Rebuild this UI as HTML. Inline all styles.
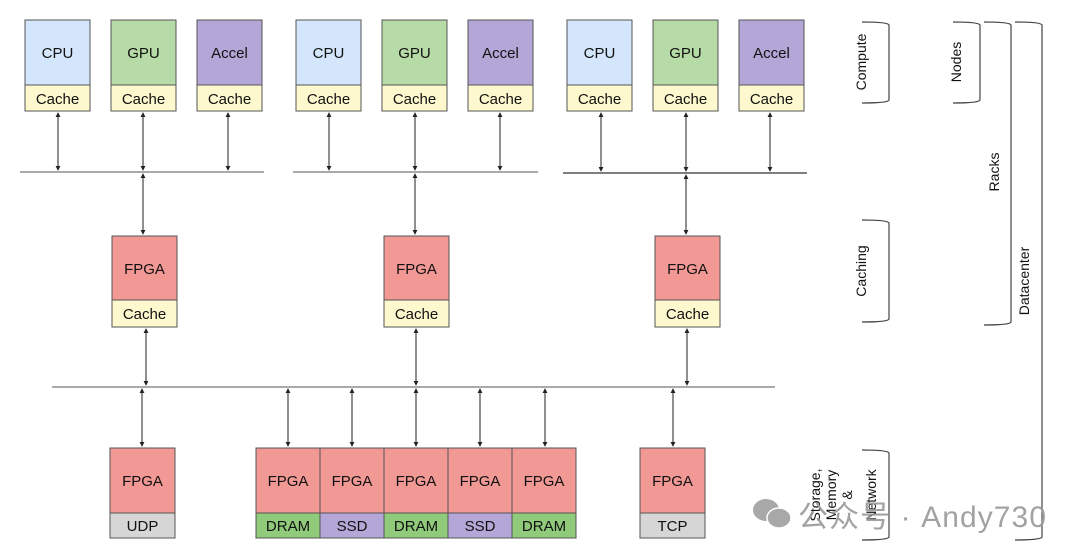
<!DOCTYPE html>
<html><head><meta charset="utf-8"><style>
html,body{margin:0;padding:0;background:#fff;}
svg{display:block;}
text{font-family:"Liberation Sans",Arial,sans-serif;fill:#111;}
</style></head><body>
<svg width="1080" height="559" viewBox="0 0 1080 559" xmlns="http://www.w3.org/2000/svg">
<defs>
<marker id="a" viewBox="0 0 6 6" refX="5" refY="3" markerWidth="5" markerHeight="5" orient="auto-start-reverse"><path d="M0,0 L6,3 L0,6 z" fill="#222"/></marker>
</defs>
<g stroke="#555" stroke-width="1">
<rect x="25" y="20" width="65" height="65" fill="#d3e6fb"/><rect x="25" y="85" width="65" height="26" fill="#fdf8cd"/>
<rect x="111" y="20" width="65" height="65" fill="#b7dba6"/><rect x="111" y="85" width="65" height="26" fill="#fdf8cd"/>
<rect x="197" y="20" width="65" height="65" fill="#b4a7d8"/><rect x="197" y="85" width="65" height="26" fill="#fdf8cd"/>
<rect x="296" y="20" width="65" height="65" fill="#d3e6fb"/><rect x="296" y="85" width="65" height="26" fill="#fdf8cd"/>
<rect x="382" y="20" width="65" height="65" fill="#b7dba6"/><rect x="382" y="85" width="65" height="26" fill="#fdf8cd"/>
<rect x="468" y="20" width="65" height="65" fill="#b4a7d8"/><rect x="468" y="85" width="65" height="26" fill="#fdf8cd"/>
<rect x="567" y="20" width="65" height="65" fill="#d3e6fb"/><rect x="567" y="85" width="65" height="26" fill="#fdf8cd"/>
<rect x="653" y="20" width="65" height="65" fill="#b7dba6"/><rect x="653" y="85" width="65" height="26" fill="#fdf8cd"/>
<rect x="739" y="20" width="65" height="65" fill="#b4a7d8"/><rect x="739" y="85" width="65" height="26" fill="#fdf8cd"/>
<rect x="112" y="236" width="65" height="64" fill="#f29895"/><rect x="112" y="300" width="65" height="27" fill="#fdf8cd"/>
<rect x="384" y="236" width="65" height="64" fill="#f29895"/><rect x="384" y="300" width="65" height="27" fill="#fdf8cd"/>
<rect x="655" y="236" width="65" height="64" fill="#f29895"/><rect x="655" y="300" width="65" height="27" fill="#fdf8cd"/>
<rect x="110" y="448" width="65" height="65" fill="#f29895"/><rect x="110" y="513" width="65" height="25" fill="#d6d6d6"/>
<rect x="256" y="448" width="64" height="65" fill="#f29895"/><rect x="256" y="513" width="64" height="25" fill="#8fcb7a"/>
<rect x="320" y="448" width="64" height="65" fill="#f29895"/><rect x="320" y="513" width="64" height="25" fill="#b4a7d8"/>
<rect x="384" y="448" width="64" height="65" fill="#f29895"/><rect x="384" y="513" width="64" height="25" fill="#8fcb7a"/>
<rect x="448" y="448" width="64" height="65" fill="#f29895"/><rect x="448" y="513" width="64" height="25" fill="#b4a7d8"/>
<rect x="512" y="448" width="64" height="65" fill="#f29895"/><rect x="512" y="513" width="64" height="25" fill="#8fcb7a"/>
<rect x="640" y="448" width="65" height="65" fill="#f29895"/><rect x="640" y="513" width="65" height="25" fill="#d6d6d6"/>
</g>
<g font-size="15" text-anchor="middle">
<text x="57.5" y="58">CPU</text><text x="57.5" y="104">Cache</text>
<text x="143.5" y="58">GPU</text><text x="143.5" y="104">Cache</text>
<text x="229.5" y="58">Accel</text><text x="229.5" y="104">Cache</text>
<text x="328.5" y="58">CPU</text><text x="328.5" y="104">Cache</text>
<text x="414.5" y="58">GPU</text><text x="414.5" y="104">Cache</text>
<text x="500.5" y="58">Accel</text><text x="500.5" y="104">Cache</text>
<text x="599.5" y="58">CPU</text><text x="599.5" y="104">Cache</text>
<text x="685.5" y="58">GPU</text><text x="685.5" y="104">Cache</text>
<text x="771.5" y="58">Accel</text><text x="771.5" y="104">Cache</text>
<text x="144.5" y="274">FPGA</text><text x="144.5" y="319">Cache</text>
<text x="416.5" y="274">FPGA</text><text x="416.5" y="319">Cache</text>
<text x="687.5" y="274">FPGA</text><text x="687.5" y="319">Cache</text>
<text x="142.5" y="486">FPGA</text><text x="142.5" y="531">UDP</text>
<text x="288" y="486">FPGA</text><text x="288" y="531">DRAM</text>
<text x="352" y="486">FPGA</text><text x="352" y="531">SSD</text>
<text x="416" y="486">FPGA</text><text x="416" y="531">DRAM</text>
<text x="480" y="486">FPGA</text><text x="480" y="531">SSD</text>
<text x="544" y="486">FPGA</text><text x="544" y="531">DRAM</text>
<text x="672.5" y="486">FPGA</text><text x="672.5" y="531">TCP</text>
</g>
<g stroke="#777" stroke-width="1.2">
<line x1="20" y1="172" x2="264" y2="172"/>
<line x1="293" y1="172" x2="538" y2="172"/>
<line x1="563" y1="173" x2="807" y2="173" stroke="#333"/>
<line x1="52" y1="387" x2="775" y2="387"/>
</g>
<g stroke="#222" stroke-width="1" marker-start="url(#a)" marker-end="url(#a)">
<line x1="58" y1="113" x2="58" y2="170"/><line x1="143" y1="113" x2="143" y2="170"/><line x1="228" y1="113" x2="228" y2="170"/>
<line x1="329" y1="113" x2="329" y2="170"/><line x1="415" y1="113" x2="415" y2="170"/><line x1="500" y1="113" x2="500" y2="170"/>
<line x1="601" y1="113" x2="601" y2="171"/><line x1="686" y1="113" x2="686" y2="171"/><line x1="770" y1="113" x2="770" y2="171"/>
<line x1="143" y1="174" x2="143" y2="234"/><line x1="415" y1="174" x2="415" y2="234"/><line x1="686" y1="175" x2="686" y2="234"/>
<line x1="146" y1="329" x2="146" y2="385"/><line x1="416" y1="329" x2="416" y2="385"/><line x1="687" y1="329" x2="687" y2="385"/>
<line x1="142" y1="389" x2="142" y2="446"/><line x1="288" y1="389" x2="288" y2="446"/><line x1="352" y1="389" x2="352" y2="446"/>
<line x1="416" y1="389" x2="416" y2="446"/><line x1="480" y1="389" x2="480" y2="446"/><line x1="545" y1="389" x2="545" y2="446"/>
<line x1="673" y1="389" x2="673" y2="446"/>
</g>
<g fill="none" stroke="#444" stroke-width="1.2">
<path d="M862,22 Q888,22 889,25 L889,100 Q888,103 862,103"/>
<path d="M862,220 Q888,220 889,223 L889,319 Q888,322 862,322"/>
<path d="M862,450 Q888,450 889,453 L889,537 Q888,540 862,540"/>
<path d="M953,22 Q979,22 980,25 L980,100 Q979,103 953,103"/>
<path d="M984,22 Q1010,22 1011,25 L1011,322 Q1010,325 984,325"/>
<path d="M1015,22 Q1041,22 1042,25 L1042,537 Q1041,540 1015,540"/>
</g>
<g font-size="14" text-anchor="middle">
<text transform="translate(866,62) rotate(-90)">Compute</text>
<text transform="translate(866,271) rotate(-90)">Caching</text>
<text transform="translate(961,62) rotate(-90)">Nodes</text>
<text transform="translate(999,172) rotate(-90)">Racks</text>
<text transform="translate(1029,281) rotate(-90)">Datacenter</text>
<text transform="translate(820,495) rotate(-90)">Storage,</text>
<text transform="translate(836,495) rotate(-90)">Memory</text>
<text transform="translate(852,495) rotate(-90)">&amp;</text>
<text transform="translate(876,495) rotate(-90)">Network</text>
</g>
<g fill="#9a9a9a" opacity="0.85">
<ellipse cx="766" cy="510" rx="13" ry="11"/>
<ellipse cx="779" cy="518" rx="12" ry="10" stroke="#fff" stroke-width="1.5"/>
</g>
<text x="798" y="527" font-size="30" textLength="248" style="fill:#999;font-family:'Liberation Sans','Noto Sans CJK SC',sans-serif;opacity:0.9">公众号 · Andy730</text>
</svg>
</body></html>
